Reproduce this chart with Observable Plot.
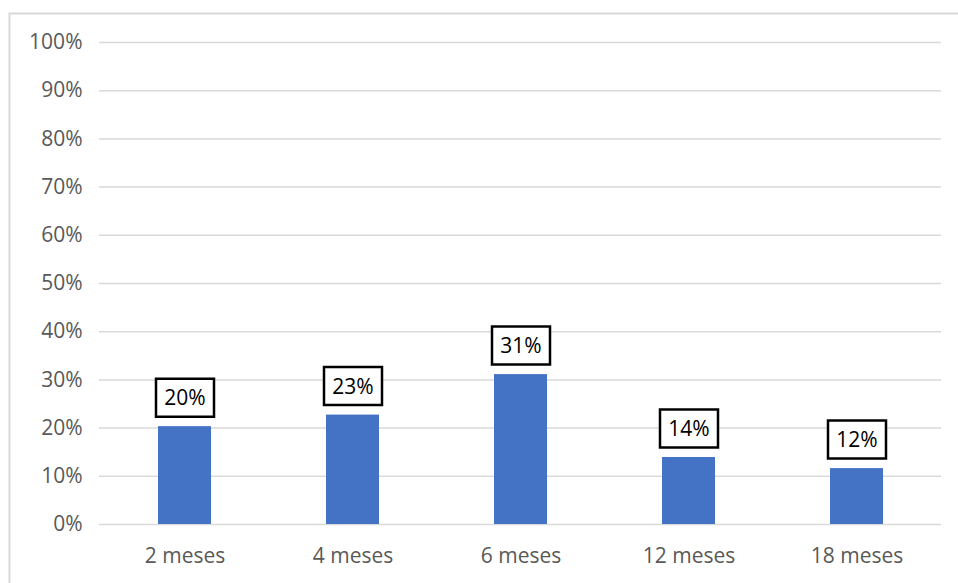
<!DOCTYPE html>
<html>
<head>
<meta charset="utf-8">
<script src="https://cdn.jsdelivr.net/npm/d3@7"></script>
<script src="https://cdn.jsdelivr.net/npm/@observablehq/plot@0.6"></script>
<style>
  html, body { margin: 0; padding: 0; background: #fff; }
  #chart svg { display: block; overflow: hidden; }
</style>
</head>
<body>
<div id="chart"></div>
<script>
// Share of cases by follow-up period
const periods = ["2 meses", "4 meses", "6 meses", "12 meses", "18 meses"];
const shares = [0.203, 0.227, 0.311, 0.139, 0.116];
const yTicks = [0, 0.1, 0.2, 0.3, 0.4, 0.5, 0.6, 0.7, 0.8, 0.9, 1];

const rows = periods.map((p, i) => ({period: p, share: shares[i]}));
const pct = d3.format(".0%");

// Rectangular outline used behind each value label
const boxSymbol = {
  draw(ctx) { ctx.rect(-29, -19, 58, 38); }
};

const chart = Plot.plot({
  width: 958,
  height: 583,
  marginLeft: 99,
  marginRight: 17,
  marginTop: 42,
  marginBottom: 59,
  style: {fontFamily: "'Open Sans', sans-serif", fontSize: "21px", color: "#595959", background: "#fff"},
  x: {domain: periods, paddingInner: 0.685, paddingOuter: 0.3425, label: null, tickSize: 0, tickPadding: 24},
  y: {domain: [0, 1], ticks: yTicks, tickFormat: pct, label: null, tickSize: 0, tickPadding: 17},
  marks: [
    Plot.frame({stroke: "#d9d9d9", strokeWidth: 2, insetLeft: -90, insetTop: -29, insetRight: -40, insetBottom: -80}),
    Plot.gridY(yTicks, {stroke: "#d9d9d9", strokeOpacity: 1, strokeWidth: 1.5}),
    Plot.barY(rows, {x: "period", y: "share", fill: "#4472c4"}),
    Plot.dot(rows, {x: "period", y: "share", dy: -29, symbol: boxSymbol, fill: "#fff", stroke: "#000", strokeWidth: 2.5}),
    Plot.text(rows, {x: "period", y: "share", dy: -28, text: d => pct(d.share), fill: "#000", fontSize: 21})
  ]
});

document.getElementById("chart").appendChild(chart);
</script>
</body>
</html>
